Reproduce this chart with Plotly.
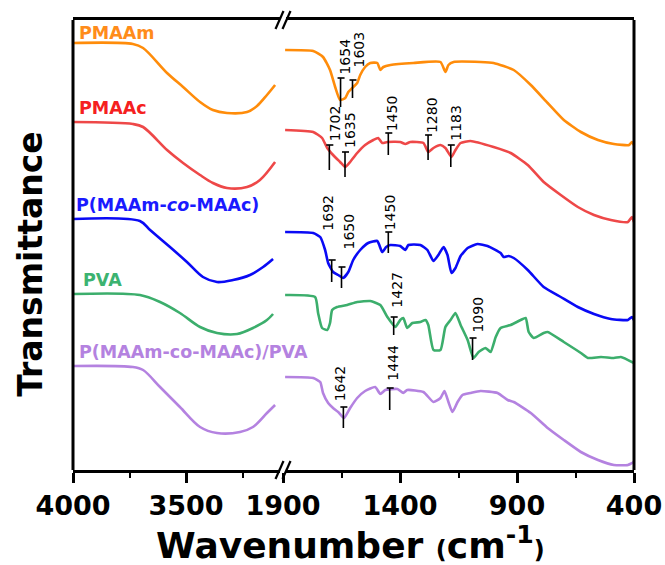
import plotly.graph_objects as go

# ---------------- data (wavenumber in cm-1, transmittance in offset a.u.) ----------------
series_names = ["PMAAm", "PMAAc", "P(MAAm-co-MAAc)", "PVA", "P(MAAm-co-MAAc)/PVA"]
label_texts = ["PMAAm", "PMAAc", "P(MAAm-<i>co</i>-MAAc)", "PVA", "P(MAAm-co-MAAc)/PVA"]

# high-wavenumber region (4000 - ~3100)
pmaam_hi_x = [4000, 3735, 3690, 3584, 3513, 3438, 3381, 3319, 3230, 3186, 3142, 3106]
pmaam_hi_y = [427, 426, 422, 397, 383, 368, 360, 357, 358, 364, 375, 385]
pmaac_hi_x = [4000, 3735, 3690, 3584, 3513, 3438, 3381, 3319, 3230, 3173, 3106]
pmaac_hi_y = [348, 346, 343, 320, 307, 295, 287, 282, 283, 290, 308]
copo_hi_x = [4000, 3704, 3659, 3571, 3496, 3425, 3363, 3292, 3217, 3159, 3115]
copo_hi_y = [251, 249, 240, 223, 208, 193, 188, 190, 195, 203, 211]
pva_hi_x = [4000, 3704, 3615, 3527, 3438, 3363, 3274, 3204, 3142, 3115]
pva_hi_y = [176, 175, 168, 157, 143, 137, 136, 142, 150, 156]
blend_hi_x = [4000, 3735, 3690, 3615, 3527, 3438, 3363, 3261, 3204, 3142, 3106]
blend_hi_y = [104, 103, 100, 83, 63, 43, 37, 38, 43, 57, 65]

# fingerprint region (1900 - 400)
pmaam_lo_x = [1891, 1771, 1729, 1699, 1677, 1656, 1634, 1621, 1604, 1583, 1570, 1549, 1527, 1497,
              1484, 1471, 1441, 1343, 1227, 1206, 1193, 1171, 1056, 1000, 914, 841, 769, 700,
              627, 554, 486, 421, 409, 400]
pmaam_lo_y = [420, 419, 413, 400, 383, 370, 372, 378, 382, 387, 395, 403, 407, 407,
              400, 403, 405, 407, 408, 398, 405, 408, 408, 407, 400, 385, 367, 350,
              338, 330, 326, 325, 328, 325]
pmaac_lo_x = [1891, 1771, 1733, 1711, 1686, 1656, 1634, 1613, 1583, 1549, 1514, 1493, 1476, 1454,
              1399, 1377, 1356, 1300, 1279, 1257, 1227, 1206, 1180, 1163, 1141, 1099, 1000, 927,
              854, 786, 713, 640, 571, 499, 426, 409, 400]
pmaac_lo_y = [340, 338, 332, 322, 315, 308, 303, 308, 317, 325, 330, 332, 327, 328,
              328, 326, 328, 327, 318, 322, 325, 322, 313, 320, 327, 329, 323, 317,
              305, 288, 275, 263, 255, 250, 248, 253, 248]
copo_lo_x = [1891, 1771, 1741, 1720, 1707, 1686, 1664, 1643, 1621, 1600, 1570, 1536, 1497, 1476,
             1459, 1441, 1399, 1377, 1364, 1313, 1283, 1257, 1236, 1214, 1197, 1180, 1163, 1141,
             1111, 1069, 1026, 970, 957, 936, 914, 854, 786, 713, 640, 571, 499, 426, 409, 400]
copo_lo_y = [238, 237, 233, 220, 207, 198, 195, 192, 198, 210, 220, 227, 229, 218,
             223, 225, 224, 220, 225, 225, 220, 209, 215, 223, 215, 197, 202, 214,
             222, 226, 224, 217, 213, 214, 212, 200, 183, 173, 163, 156, 151, 150, 153, 150]
pva_lo_x = [1891, 1763, 1750, 1733, 1711, 1699, 1690, 1669, 1626, 1583, 1527, 1484, 1454, 1420,
            1399, 1386, 1369, 1347, 1313, 1291, 1279, 1257, 1227, 1206, 1184, 1163, 1141, 1111,
            1086, 1064, 1034, 1013, 991, 970, 927, 884, 863, 850, 829, 786, 769, 700,
            627, 597, 541, 486, 456, 400]
pva_lo_y = [175, 173, 157, 142, 140, 147, 160, 163, 165, 168, 169, 165, 153, 143,
            150, 152, 142, 147, 148, 150, 145, 120, 120, 143, 150, 157, 145, 130,
            112, 118, 122, 118, 133, 142, 145, 150, 152, 138, 132, 137, 138, 128,
            117, 112, 113, 112, 113, 107]
blend_lo_x = [1891, 1771, 1741, 1729, 1707, 1686, 1664, 1639, 1613, 1583, 1549, 1506, 1484, 1463,
              1411, 1386, 1369, 1300, 1257, 1227, 1210, 1193, 1176, 1154, 1133, 1099, 1056, 983,
              940, 914, 841, 769, 700, 627, 554, 486, 426, 400]
blend_lo_y = [93, 92, 88, 77, 67, 62, 58, 52, 62, 72, 79, 83, 76, 80,
              81, 77, 80, 78, 68, 72, 79, 68, 58, 68, 75, 77, 79, 77,
              70, 68, 57, 42, 30, 18, 10, 5, 5, 8]

# peak assignments
peak_series = [0, 0, 1, 1, 1, 1, 1, 2, 2, 2, 3, 3, 4, 4]
peak_wn = [1654, 1603, 1702, 1635, 1450, 1280, 1183, 1692, 1650, 1450, 1427, 1090, 1642, 1444]
peak_labels = [str(v) for v in peak_wn]

# x-axis tick labels
left_ticks = [4000, 3500]
right_ticks = [1900, 1400, 900, 400]

# ---------------- styling / layout geometry ----------------
line_colors = ["#FF8C0A", "#EE4848", "#0A0AF5", "#3CAE6C", "#B482E0"]
text_colors = ["#FF8C1A", "#F52020", "#1A1AFF", "#3CB371", "#B482E0"]
label_y = [437, 362, 265, 190, 118]
label_x = [0.007, 0.007, 0.002, 0.014, 0.007]

# per peak marker: (line top, line bottom, text bottom, text x-shift px)
peak_geom = [(392, 363, 393, 4), (390, 372, 400, 6),
             (325, 300, 327, 6), (318, 293, 320, 5), (337, 315, 337, 4), (335, 310, 335, 4), (325, 303, 327, 5),
             (210, 188, 237, -4), (203, 182, 218, 7), (238, 217, 238, 2),
             (153, 135, 160, 3), (132, 110, 135, 5),
             (63, 42, 67, -3), (82, 60, 87, 3)]

hi_x = [pmaam_hi_x, pmaac_hi_x, copo_hi_x, pva_hi_x, blend_hi_x]
hi_y = [pmaam_hi_y, pmaac_hi_y, copo_hi_y, pva_hi_y, blend_hi_y]
lo_x = [pmaam_lo_x, pmaac_lo_x, copo_lo_x, pva_lo_x, blend_lo_x]
lo_y = [pmaam_lo_y, pmaac_lo_y, copo_lo_y, pva_lo_y, blend_lo_y]

split = 210 / 561
FONT = "DejaVu Sans"

fig = go.Figure()
for i, name in enumerate(series_names):
    fig.add_trace(go.Scatter(x=hi_x[i], y=hi_y[i], mode="lines", name=name, xaxis="x", yaxis="y",
                             line=dict(color=line_colors[i], width=2.6, shape="spline", smoothing=0.9),
                             showlegend=False))
    fig.add_trace(go.Scatter(x=lo_x[i], y=lo_y[i], mode="lines", name=name, xaxis="x2", yaxis="y",
                             line=dict(color=line_colors[i], width=2.6, shape="spline", smoothing=0.5),
                             showlegend=False))

axis_common = dict(showline=True, linewidth=3, linecolor="black", mirror=True,
                   ticks="outside", ticklen=10, tickwidth=2.5, tickcolor="black",
                   showgrid=False, zeroline=False, anchor="y", automargin=False,
                   tickfont=dict(family=FONT, size=27, color="black", weight="bold"))

shapes = []
# left & right frame lines
for xp in (0, 1):
    shapes.append(dict(type="line", xref="paper", yref="paper", x0=xp, x1=xp, y0=0, y1=1,
                       line=dict(color="black", width=3)))
# axis-break marks
for yp in (0, 1):
    shapes.append(dict(type="rect", xref="paper", yref="paper", xsizemode="pixel", ysizemode="pixel",
                       xanchor=split, yanchor=yp, x0=-3, x1=3, y0=-3, y1=3,
                       fillcolor="white", line=dict(width=0), layer="above"))
    for off in (-3.5, 3.5):
        shapes.append(dict(type="line", xref="paper", yref="paper", xsizemode="pixel", ysizemode="pixel",
                           xanchor=split, yanchor=yp, x0=off - 4, x1=off + 4, y0=-9, y1=9,
                           line=dict(color="black", width=2.2), layer="above"))

annotations = []
for k, wn in enumerate(peak_wn):
    top, bot, tb, dx = peak_geom[k]
    shapes.append(dict(type="line", xref="x2", yref="y", x0=wn, x1=wn, y0=bot, y1=top,
                       line=dict(color="black", width=1.6)))
    shapes.append(dict(type="line", xref="x2", yref="y", xsizemode="pixel", xanchor=wn,
                       x0=-3, x1=4, y0=top, y1=top, line=dict(color="black", width=1.6)))
    annotations.append(dict(x=wn, y=tb, xref="x2", yref="y", xshift=dx, text=peak_labels[k],
                            textangle=-90, showarrow=False, xanchor="center", yanchor="bottom",
                            font=dict(family=FONT, size=14, color="black")))

for i, t in enumerate(label_texts):
    annotations.append(dict(x=label_x[i], y=label_y[i], xref="paper", yref="y", text="<b>" + t + "</b>",
                            showarrow=False, xanchor="left", yanchor="middle",
                            font=dict(family=FONT, size=17.5, color=text_colors[i])))

annotations.append(dict(x=-0.075, y=0.458, xref="paper", yref="paper", text="<b>Transmittance</b>",
                        textangle=-90, showarrow=False, xanchor="center", yanchor="middle",
                        font=dict(family=FONT, size=33, color="black")))
annotations.append(dict(x=0.4955, y=-0.163, xref="paper", yref="paper",
                        text="<b>Wavenumber <span style='font-size:24px'>(</span>cm<sup>-1</sup>"
                             "<span style='font-size:24px'>)</span></b>",
                        showarrow=False, xanchor="center", yanchor="middle",
                        font=dict(family=FONT, size=36, color="black")))

fig.update_layout(
    width=665, height=565,
    margin=dict(l=73, r=31, t=20, b=95, autoexpand=False),
    paper_bgcolor="white", plot_bgcolor="white",
    xaxis=dict(domain=[0, split], range=[4000, 3071], tickmode="array", tickvals=left_ticks,
               ticktext=[str(v) for v in left_ticks],
               minor=dict(ticks="outside", ticklen=5, tickwidth=2, tickcolor="black",
                          tickvals=[3750, 3250], showgrid=False),
               **axis_common),
    xaxis2=dict(domain=[split, 1], range=[1900, 400], tickmode="array", tickvals=right_ticks,
                ticktext=[str(v) for v in right_ticks],
                minor=dict(ticks="outside", ticklen=5, tickwidth=2, tickcolor="black",
                           tickvals=[1650, 1150, 650], showgrid=False),
                **axis_common),
    yaxis=dict(domain=[0, 1], range=[0, 450], showline=False, showticklabels=False, ticks="",
               showgrid=False, zeroline=False, anchor="x", automargin=False),
    shapes=shapes, annotations=annotations,
)

fig.write_html("out.html", config={"displayModeBar": False},
               post_script="document.body.style.margin='0px';document.body.style.overflow='hidden';")
